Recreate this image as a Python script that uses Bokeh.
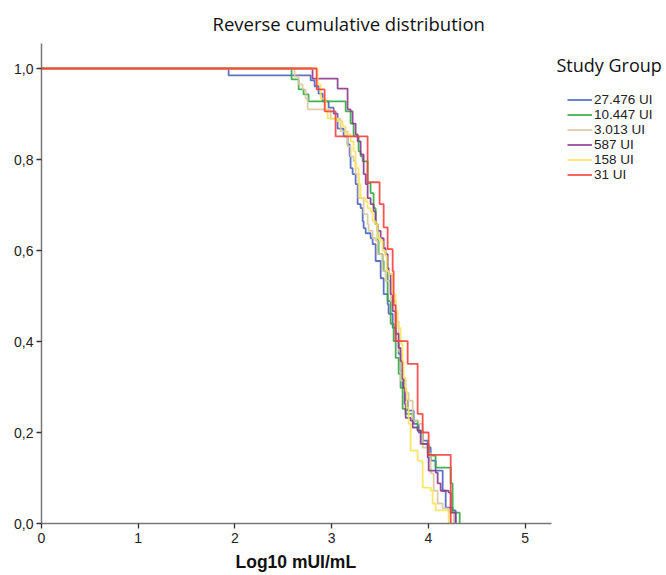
from bokeh.plotting import figure
from bokeh.models import Range1d, FixedTicker, Label, Legend, LegendItem, Title
from bokeh.embed import file_html
from bokeh.resources import INLINE

# ---------------- data ----------------
GROUPS = ["27.476 UI", "10.447 UI", "3.013 UI", "587 UI", "158 UI", "31 UI"]
COLORS = ["#4d63bd", "#34a843", "#d8c8a0", "#8a3a8c", "#fbe35a", "#f5403f"]

X_27476 = [0.0, 1.934, 2.782, 2.823, 2.864, 2.906, 2.968, 3.020, 3.061, 3.123, 3.164, 3.185, 3.195,
           3.216, 3.247, 3.268, 3.299, 3.320, 3.330, 3.351, 3.402, 3.423, 3.454, 3.506, 3.537, 3.578,
           3.588, 3.630, 3.661, 3.692, 3.712, 3.733, 3.764, 3.785, 3.847, 3.899, 3.940, 3.992, 4.023,
           4.074, 4.147, 4.178, 4.250, 4.281]
Y_27476 = [1.0, 0.985, 0.974, 0.961, 0.945, 0.928, 0.914, 0.901, 0.868, 0.851, 0.833, 0.807, 0.781,
           0.768, 0.746, 0.702, 0.693, 0.664, 0.649, 0.638, 0.627, 0.614, 0.577, 0.539, 0.504, 0.482,
           0.461, 0.430, 0.401, 0.373, 0.336, 0.298, 0.270, 0.248, 0.219, 0.200, 0.182, 0.167, 0.138,
           0.116, 0.072, 0.035, 0.029, 0.0]

X_10447 = [0.0, 2.585, 2.658, 2.709, 2.761, 3.144, 3.195, 3.226, 3.278, 3.299, 3.320, 3.371, 3.402,
           3.433, 3.454, 3.475, 3.485, 3.526, 3.537, 3.578, 3.609, 3.640, 3.661, 3.692, 3.712, 3.733,
           3.764, 3.837, 3.888, 3.940, 4.002, 4.074, 4.230, 4.250, 4.323]
Y_10447 = [1.0, 0.976, 0.954, 0.943, 0.928, 0.906, 0.879, 0.851, 0.818, 0.807, 0.796, 0.748, 0.726,
           0.693, 0.658, 0.621, 0.592, 0.577, 0.555, 0.489, 0.439, 0.401, 0.364, 0.329, 0.298, 0.252,
           0.241, 0.226, 0.204, 0.175, 0.149, 0.123, 0.088, 0.024, 0.0]

X_3013 = [0.0, 2.616, 2.658, 2.699, 2.730, 2.751, 2.989, 3.092, 3.164, 3.195, 3.226, 3.247, 3.278,
          3.330, 3.371, 3.382, 3.423, 3.454, 3.475, 3.526, 3.557, 3.609, 3.661, 3.692, 3.712, 3.764,
          3.795, 3.837, 3.899, 3.940, 3.992, 4.023, 4.054, 4.095, 4.147, 4.209, 4.261]
Y_3013 = [1.0, 0.982, 0.965, 0.954, 0.934, 0.910, 0.890, 0.862, 0.829, 0.807, 0.796, 0.768, 0.715,
          0.680, 0.658, 0.643, 0.627, 0.621, 0.592, 0.555, 0.533, 0.489, 0.445, 0.379, 0.314, 0.287,
          0.270, 0.226, 0.219, 0.167, 0.154, 0.110, 0.072, 0.044, 0.033, 0.024, 0.0]

X_587 = [0.0, 2.802, 3.061, 3.164, 3.195, 3.216, 3.247, 3.268, 3.299, 3.330, 3.351, 3.371, 3.402,
         3.433, 3.454, 3.475, 3.506, 3.537, 3.557, 3.578, 3.588, 3.609, 3.630, 3.661, 3.692, 3.712,
         3.733, 3.744, 3.754, 3.764, 3.816, 3.837, 3.888, 3.919, 3.992, 4.002, 4.074, 4.095, 4.126,
         4.209, 4.230, 4.281]
Y_587 = [1.0, 0.978, 0.956, 0.910, 0.906, 0.879, 0.855, 0.840, 0.811, 0.768, 0.746, 0.715, 0.702,
         0.686, 0.658, 0.643, 0.627, 0.605, 0.592, 0.561, 0.548, 0.504, 0.467, 0.417, 0.386, 0.357,
         0.320, 0.298, 0.263, 0.232, 0.226, 0.211, 0.204, 0.175, 0.145, 0.116, 0.112, 0.088, 0.072,
         0.068, 0.024, 0.0]

X_158 = [0.0, 2.854, 2.885, 2.937, 2.958, 3.061, 3.113, 3.144, 3.195, 3.226, 3.247, 3.278, 3.299,
         3.351, 3.371, 3.402, 3.423, 3.454, 3.475, 3.506, 3.526, 3.557, 3.568, 3.588, 3.630, 3.661,
         3.681, 3.712, 3.733, 3.744, 3.764, 3.775, 3.795, 3.816, 3.888, 3.940, 4.023, 4.043, 4.074,
         4.209]
Y_158 = [1.0, 0.965, 0.934, 0.906, 0.890, 0.884, 0.873, 0.855, 0.840, 0.818, 0.781, 0.746, 0.715,
         0.708, 0.693, 0.686, 0.664, 0.658, 0.627, 0.621, 0.599, 0.588, 0.555, 0.548, 0.504, 0.467,
         0.430, 0.395, 0.357, 0.320, 0.292, 0.254, 0.219, 0.160, 0.138, 0.079, 0.072, 0.044, 0.029,
         0.0]

X_31 = [0.0, 2.844, 2.927, 3.040, 3.371, 3.495, 3.537, 3.578, 3.630, 3.640, 3.661, 3.785, 3.888,
        3.940, 4.002, 4.230]
Y_31 = [1.0, 0.954, 0.906, 0.851, 0.750, 0.702, 0.651, 0.603, 0.555, 0.480, 0.401, 0.351, 0.241,
        0.200, 0.151, 0.0]

SERIES_X = [X_27476, X_10447, X_3013, X_587, X_158, X_31]
SERIES_Y = [Y_27476, Y_10447, Y_3013, Y_587, Y_158, Y_31]

X_TICKS = [0, 1, 2, 3, 4, 5]
Y_TICKS = [0.0, 0.2, 0.4, 0.6, 0.8, 1.0]
Y_TICK_LABELS = ["0,0", "0,2", "0,4", "0,6", "0,8", "1,0"]

TITLE = "Reverse cumulative distribution"
X_LABEL = "Log10 mUI/mL"
LEGEND_TITLE = "Study Group"

# ---------------- figure ----------------
W, H = 664, 575
p = figure(width=W, height=H, output_backend="svg", toolbar_location=None,
           x_range=Range1d(0, 6.44), y_range=Range1d(0, 1.055),
           min_border_left=41, min_border_right=0, min_border_top=42, min_border_bottom=52)
p.outline_line_color = None
p.grid.visible = False
p.background_fill_color = "white"

renderers = []
for xs, ys, c in zip(SERIES_X, SERIES_Y, COLORS):
    r = p.step(x=xs, y=ys, mode="after", line_color=c, line_width=1.8, line_alpha=0.9)
    renderers.append(r)

# axes
for ax in (p.xaxis[0], p.yaxis[0]):
    ax.axis_line_color = "#777777"
    ax.axis_line_width = 1.5
    ax.major_tick_line_color = "#333333"
    ax.major_tick_line_width = 1.3
    ax.major_tick_in = 0
    ax.major_tick_out = 5
    ax.minor_tick_line_color = None
    ax.major_label_text_font = "Liberation Sans"
    ax.major_label_text_font_size = "14px"
    ax.major_label_text_color = "#222222"

p.xaxis.bounds = (0, 5.27)
p.xaxis.ticker = FixedTicker(ticks=X_TICKS)
p.xaxis.major_label_standoff = 4
p.yaxis.ticker = FixedTicker(ticks=Y_TICKS)
p.yaxis.major_label_overrides = {t: l for t, l in zip(Y_TICKS, Y_TICK_LABELS)}
p.yaxis.major_label_standoff = 3

# title (above) and x-axis label (below)
p.title = Title(text=TITLE, align="left", offset=171, standoff=16,
                text_font="Open Sans", text_font_size="18.5px", text_font_style="normal",
                text_color="#111111")
p.add_layout(Title(text=X_LABEL, align="left", offset=194, standoff=8,
                   text_font="Liberation Sans", text_font_size="17.5px", text_font_style="bold",
                   text_color="#111111"), "below")

# legend
legend = Legend(items=[LegendItem(label=g, renderers=[r]) for g, r in zip(GROUPS, renderers)],
                location=(526, 341), orientation="vertical",
                glyph_width=25, glyph_height=15, label_height=15, label_standoff=2,
                spacing=0, padding=0, margin=0,
                label_text_font="Liberation Sans", label_text_font_size="13.5px",
                label_text_color="#222222",
                background_fill_alpha=0, border_line_color=None)
p.add_layout(legend, "center")

p.add_layout(Label(x=515, y=459, x_units="screen", y_units="screen", text=LEGEND_TITLE,
                   text_align="left", text_baseline="middle",
                   text_font="Open Sans", text_font_size="18px", text_color="#111111"))

open("out.html", "w").write(file_html(p, INLINE))
